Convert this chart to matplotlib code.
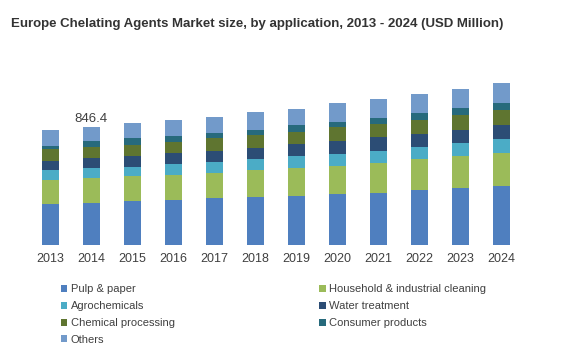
import matplotlib.pyplot as plt
import numpy as np

plt.rcParams['font.family'] = ['Liberation Sans', 'DejaVu Sans']

years = ['2013', '2014', '2015', '2016', '2017', '2018',
         '2019', '2020', '2021', '2022', '2023', '2024']
# values (USD Million)
pulp = [293, 303, 313, 322, 336, 346, 351, 365, 374, 394, 410, 424]
household = [172, 175, 181, 179, 181, 191, 198, 203, 215, 220, 227, 232]
agro = [72, 72, 62, 79, 79, 77, 88, 84, 86, 86, 95, 100]
water = [67, 72, 81, 81, 79, 83, 86, 95, 96, 95, 91, 102]
chemical = [81, 79, 79, 79, 89, 89, 88, 96, 95, 100, 105, 107]
consumer = [26, 40, 48, 41, 36, 38, 48, 40, 45, 48, 54, 48]
others = [112, 105, 107, 114, 119, 127, 114, 132, 134, 136, 134, 143]

labels = ['Pulp & paper', 'Household & industrial cleaning', 'Agrochemicals',
          'Water treatment', 'Chemical processing', 'Consumer products', 'Others']
colors = ['#4f7fbf', '#9bbb59', '#4bacc6', '#2c4d75', '#5f7530', '#276a7c', '#729aca']
series = [pulp, household, agro, water, chemical, consumer, others]

fig = plt.figure(figsize=(5.62, 3.57), dpi=100)
ax = fig.add_axes([0.053, 0.3137, 0.876, 0.509])

x = np.arange(len(years))
bottom = np.zeros(len(years))
bars = []
for vals, col, lab in zip(series, colors, labels):
    b = ax.bar(x, vals, 0.4, bottom=bottom, color=col, label=lab)
    bars.append(b)
    bottom += np.array(vals)

ax.text(x[1], 846.4 + 12, '846.4', ha='center', va='bottom', fontsize=9.5, color='#404040')

ax.set_xlim(-0.5, 11.5)
ax.set_ylim(0, 1300)
ax.set_xticks(x)
ax.set_xticklabels(years, fontsize=9, color='#404040')
ax.set_yticks([])
ax.tick_params(axis='x', length=0, pad=6)
for s in ax.spines.values():
    s.set_visible(False)

fig.text(0.02, 0.932, 'Europe Chelating Agents Market size, by application, 2013 - 2024 (USD Million)',
         fontsize=9.5, fontweight='bold', color='#333333', va='center')

# legend: row-major order in two columns
order = [0, 2, 4, 6, 1, 3, 5]
leg = fig.legend([bars[i] for i in order], [labels[i] for i in order],
                 loc='upper left', bbox_to_anchor=(0.09, 0.232), ncol=2,
                 frameon=False, fontsize=8, handlelength=0.6, handleheight=0.6,
                 handletextpad=0.3, labelspacing=0.62, columnspacing=13,
                 labelcolor='#404040')

fig.savefig('out.png', dpi=100)
